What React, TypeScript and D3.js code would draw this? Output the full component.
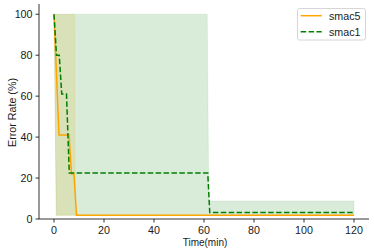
import React from "react";
import * as d3 from "d3";

const xTicks = [0, 20, 40, 60, 80, 100, 120];
const yTicks = [0, 20, 40, 60, 80, 100];

const smac5Time = [0, 2, 6, 7, 8, 9, 120];
const smac5Mean = [100, 41, 41, 22, 22, 1.8, 1.8];
const smac5BandTime = [0, 0.9, 8.3, 8.5, 120];
const smac5Lower = [100, 1.8, 1.8, 1.8, 1.8];
const smac5Upper = [100, 100, 100, 1.8, 1.8];

const smac1Time = [0, 1, 2.1, 3.1, 5, 6.1, 61.5, 62.3, 120];
const smac1Mean = [100, 80, 80, 61, 61, 22.5, 22.5, 3.2, 3.2];
const smac1BandTime = [0, 0.9, 61.3, 61.9, 120];
const smac1Lower = [100, 1.8, 1.8, 1.8, 1.8];
const smac1Upper = [100, 100, 100, 8.8, 8.8];

const W = 374, H = 249;
const FONT = "Liberation Sans, Arial, sans-serif";

export default function App() {
  const x = d3.scaleLinear().domain([-6, 126]).range([39, 369]);
  const y = d3.scaleLinear().domain([0, 105]).range([219, 4]);

  const line = d3.line<[number, number]>().x(d => x(d[0])).y(d => y(d[1]));
  const area = d3.area<[number, number, number]>()
    .x(d => x(d[0])).y0(d => y(d[1])).y1(d => y(d[2]));

  const zip2 = (a: number[], b: number[]) => a.map((v, i) => [v, b[i]] as [number, number]);
  const zip3 = (a: number[], b: number[], c: number[]) => a.map((v, i) => [v, b[i], c[i]] as [number, number, number]);

  const orange = "#FFA500";
  const green = "#008000";

  return (
    <svg width={W} height={H} style={{ position: "absolute", left: 0, top: 0 }} fontFamily={FONT}>
      <rect width={W} height={H} fill="#fff" />
      <path d={area(zip3(smac5BandTime, smac5Lower, smac5Upper)) || ""} fill={orange} fillOpacity={0.15} stroke={orange} strokeOpacity={0.1} strokeWidth={1} />
      <path d={area(zip3(smac1BandTime, smac1Lower, smac1Upper)) || ""} fill={green} fillOpacity={0.15} stroke={green} strokeOpacity={0.08} strokeWidth={1} />
      <path d={line(zip2(smac5Time, smac5Mean)) || ""} fill="none" stroke={orange} strokeWidth={1.5} />
      <path d={line(zip2(smac1Time, smac1Mean)) || ""} fill="none" stroke={green} strokeWidth={1.5} strokeDasharray="5.5,2.4" />

      {/* spines */}
      <line x1={39} x2={39} y1={4} y2={219} stroke="#000" strokeWidth={0.8} />
      <line x1={39} x2={369} y1={219} y2={219} stroke="#000" strokeWidth={0.8} />

      {yTicks.map(t => (
        <g key={"y" + t}>
          <line x1={35.5} x2={39} y1={y(t)} y2={y(t)} stroke="#000" strokeWidth={0.8} />
          <text x={32.5} y={y(t)} dy="0.36em" textAnchor="end" fontSize={10.7} fill="#1a1a1a">{t}</text>
        </g>
      ))}
      {xTicks.map(t => (
        <g key={"x" + t}>
          <line x1={x(t)} x2={x(t)} y1={219} y2={222.5} stroke="#000" strokeWidth={0.8} />
          <text x={x(t)} y={234.2} textAnchor="middle" fontSize={10.7} fill="#1a1a1a">{t}</text>
        </g>
      ))}
      <text x={205} y={246} textAnchor="middle" fontSize={10} fill="#1a1a1a">Time(min)</text>
      <text transform={`translate(15.5,112.5) rotate(-90)`} textAnchor="middle" fontSize={10.7} fill="#1a1a1a">Error Rate (%)</text>

      {/* legend */}
      <rect x={297.5} y={8.5} width={68} height={31.5} rx={2} fill="#fff" fillOpacity={0.8} stroke="#ccc" strokeWidth={0.8} />
      <line x1={300.7} x2={321.7} y1={15.7} y2={15.7} stroke={orange} strokeWidth={1.5} />
      <text x={329} y={15.7} dy="0.36em" fontSize={10.7} fill="#1a1a1a">smac5</text>
      <line x1={300.7} x2={321.7} y1={31.7} y2={31.7} stroke={green} strokeWidth={1.5} strokeDasharray="5.5,2.4" />
      <text x={329} y={31.7} dy="0.36em" fontSize={10.7} fill="#1a1a1a">smac1</text>
    </svg>
  );
}
